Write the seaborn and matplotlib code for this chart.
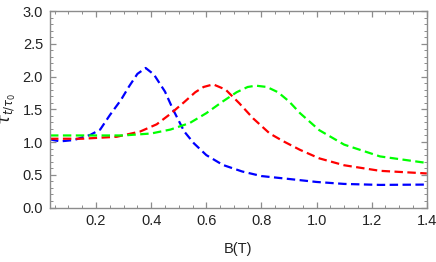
import matplotlib
matplotlib.use('Agg')
import matplotlib.pyplot as plt
from matplotlib.ticker import MultipleLocator
import pandas as pd
import seaborn as sns

# values
blue_x = [0.033, 0.07, 0.12, 0.18, 0.215, 0.25, 0.29, 0.32, 0.35, 0.38, 0.41, 0.45, 0.48,
          0.52, 0.555, 0.60, 0.66, 0.73, 0.80, 0.89, 1.0, 1.1, 1.23, 1.4]
blue_y = [1.04, 1.01, 1.03, 1.11, 1.19, 1.41, 1.64, 1.85, 2.04, 2.13, 2.03, 1.77, 1.49,
          1.16, 0.98, 0.80, 0.65, 0.55, 0.48, 0.44, 0.39, 0.36, 0.345, 0.35]
red_x = [0.033, 0.15, 0.275, 0.36, 0.42, 0.47, 0.52, 0.56, 0.59, 0.625, 0.67, 0.72, 0.77,
         0.83, 0.88, 0.94, 1.01, 1.1, 1.23, 1.4]
red_y = [1.05, 1.05, 1.08, 1.16, 1.27, 1.43, 1.61, 1.76, 1.84, 1.88, 1.80, 1.59, 1.36,
         1.13, 1.01, 0.88, 0.75, 0.645, 0.56, 0.52]
green_x = [0.033, 0.2, 0.3, 0.4, 0.47, 0.54, 0.60, 0.66, 0.71, 0.75, 0.78, 0.82, 0.86,
           0.90, 0.94, 1.01, 1.1, 1.23, 1.4]
green_y = [1.10, 1.10, 1.10, 1.13, 1.19, 1.29, 1.44, 1.62, 1.76, 1.84, 1.86, 1.84, 1.76,
           1.62, 1.44, 1.18, 0.96, 0.78, 0.68]

df = pd.concat([
    pd.DataFrame({'B': blue_x, 'tau': blue_y, 'curve': 'blue'}),
    pd.DataFrame({'B': red_x, 'tau': red_y, 'curve': 'red'}),
    pd.DataFrame({'B': green_x, 'tau': green_y, 'curve': 'green'}),
])

sns.set_style('ticks')
plt.rcParams['font.family'] = ['Liberation Sans', 'DejaVu Sans']
plt.rcParams['mathtext.fontset'] = 'dejavusans'

fig = plt.figure(figsize=(4.36, 2.62), dpi=100)
ax = fig.add_axes([0.1147, 0.208, 0.8643, 0.75])

palette = {'blue': '#0000FF', 'red': '#FF0000', 'green': '#00FF00'}
sns.lineplot(data=df, x='B', y='tau', hue='curve', palette=palette, sort=False,
             estimator=None, linewidth=1.6, legend=False, ax=ax)
for line in ax.get_lines():
    line.set_dashes((3.8, 2.0))

ax.set_xlim(0.033, 1.4)
ax.set_ylim(0, 3.0)
ax.xaxis.set_minor_locator(MultipleLocator(0.05))
ax.yaxis.set_minor_locator(MultipleLocator(0.1))
ax.set_xticks([0.2, 0.4, 0.6, 0.8, 1.0, 1.2, 1.4])
ax.set_xticklabels(['0.2', '0.4', '0.6', '0.8', '1.0', '1.2', '1.4'])
ax.set_yticks([0.0, 0.5, 1.0, 1.5, 2.0, 2.5, 3.0])
ax.set_yticklabels(['0.0', '0.5', '1.0', '1.5', '2.0', '2.5', '3.0'])

for s in ax.spines.values():
    s.set_color('#8c8c8c')
    s.set_linewidth(1.0)
ax.tick_params(which='both', direction='in', top=True, right=True, color='#8c8c8c',
               labelsize=10.5, labelcolor='#222222', pad=5)
ax.tick_params(which='major', length=4, width=0.9)
ax.tick_params(which='minor', length=2, width=0.7)

ax.set_xlabel('B(T)', fontsize=10.5, color='#222222', labelpad=10)
ax.set_ylabel(r'$\tau_{t/\tau_0}$', fontsize=12, color='#222222', labelpad=3)

fig.savefig('out.png', dpi=100)
